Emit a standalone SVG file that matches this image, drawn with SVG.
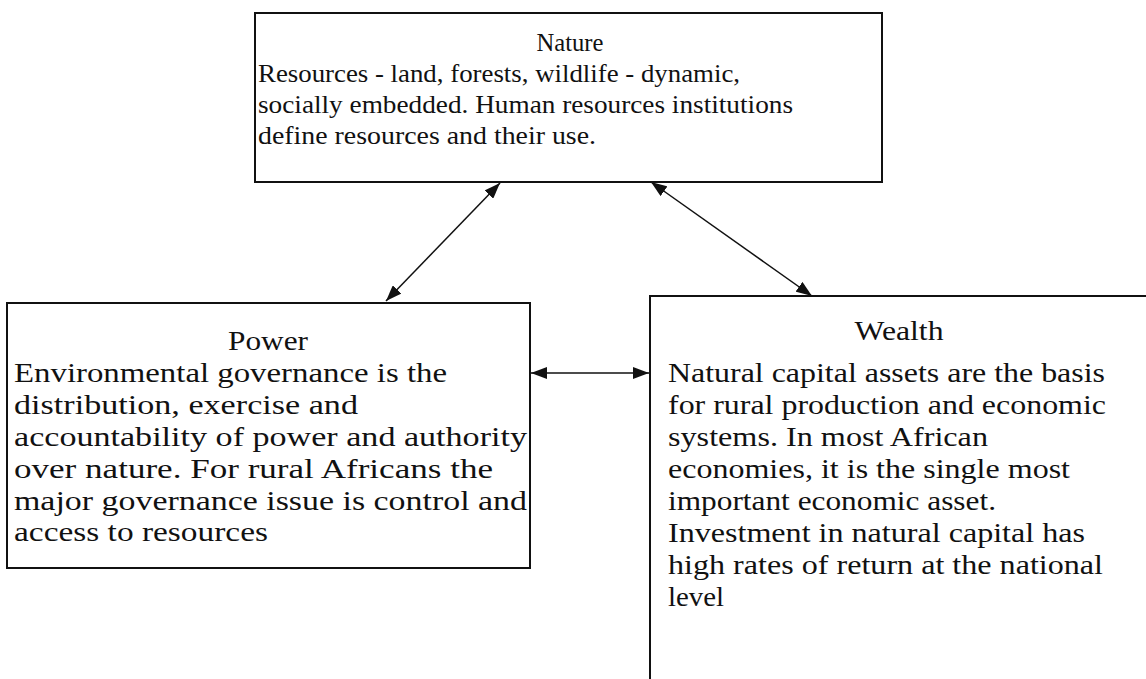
<svg xmlns="http://www.w3.org/2000/svg" width="1146" height="679" viewBox="0 0 1146 679">
<defs>
<style>
.box{fill:#fff;stroke:#111;stroke-width:2}
.t{font-family:'Liberation Serif','Times New Roman',Tinos,'DejaVu Serif',serif;font-size:27px;fill:#111}
.n{font-size:26px}
.c{text-anchor:middle}
.e{stroke:#111;stroke-width:1.5;fill:none;marker-start:url(#ah);marker-end:url(#ah)}
</style>
<marker id="ah" viewBox="0 0 16 12" refX="16" refY="6" markerWidth="16" markerHeight="12" markerUnits="userSpaceOnUse" orient="auto-start-reverse">
<path d="M0,0 L16,6 L0,12 z" fill="#111"/>
</marker>
</defs>
<rect width="1146" height="679" fill="#fff"/>
<g id="nature" font-family="Liberation Serif, serif">
<rect class="box" x="255" y="13" width="627" height="169"/>
<text class="t n c" x="570" y="51" textLength="67" lengthAdjust="spacingAndGlyphs">Nature</text>
<text class="t n" x="258" y="82" textLength="482" lengthAdjust="spacingAndGlyphs">Resources - land, forests, wildlife - dynamic,</text>
<text class="t n" x="258" y="113" textLength="535" lengthAdjust="spacingAndGlyphs">socially embedded. Human resources institutions</text>
<text class="t n" x="258" y="144" textLength="338" lengthAdjust="spacingAndGlyphs">define resources and their use.</text>
</g>
<g id="power" font-family="Liberation Serif, serif">
<rect class="box" x="7" y="303" width="523" height="265"/>
<text class="t c" x="268" y="350" textLength="80" lengthAdjust="spacingAndGlyphs">Power</text>
<text class="t" x="14" y="382" textLength="433" lengthAdjust="spacingAndGlyphs">Environmental governance is the</text>
<text class="t" x="14" y="414" textLength="344" lengthAdjust="spacingAndGlyphs">distribution, exercise and</text>
<text class="t" x="14" y="446" textLength="513" lengthAdjust="spacingAndGlyphs">accountability of power and authority</text>
<text class="t" x="14" y="478" textLength="479" lengthAdjust="spacingAndGlyphs">over nature. For rural Africans the</text>
<text class="t" x="14" y="510" textLength="513" lengthAdjust="spacingAndGlyphs">major governance issue is control and</text>
<text class="t" x="14" y="541" textLength="254" lengthAdjust="spacingAndGlyphs">access to resources</text>
</g>
<g id="wealth" font-family="Liberation Serif, serif">
<path class="box" d="M1150,296 L650,296 L650,683"/>
<text class="t c" x="899" y="340" textLength="89" lengthAdjust="spacingAndGlyphs">Wealth</text>
<text class="t" x="668" y="382" textLength="437" lengthAdjust="spacingAndGlyphs">Natural capital assets are the basis</text>
<text class="t" x="668" y="414" textLength="438" lengthAdjust="spacingAndGlyphs">for rural production and economic</text>
<text class="t" x="668" y="446" textLength="320" lengthAdjust="spacingAndGlyphs">systems. In most African</text>
<text class="t" x="668" y="478" textLength="402" lengthAdjust="spacingAndGlyphs">economies, it is the single most</text>
<text class="t" x="668" y="510" textLength="328" lengthAdjust="spacingAndGlyphs">important economic asset.</text>
<text class="t" x="668" y="542" textLength="417" lengthAdjust="spacingAndGlyphs">Investment in natural capital has</text>
<text class="t" x="668" y="574" textLength="435" lengthAdjust="spacingAndGlyphs">high rates of return at the national</text>
<text class="t" x="668" y="606" textLength="56" lengthAdjust="spacingAndGlyphs">level</text>
</g>
<g id="connectors">
<line class="e" x1="500" y1="183" x2="386" y2="301"/>
<line class="e" x1="651" y1="182" x2="812" y2="296"/>
<line class="e" x1="531" y1="373" x2="649" y2="373"/>
</g>
</svg>
